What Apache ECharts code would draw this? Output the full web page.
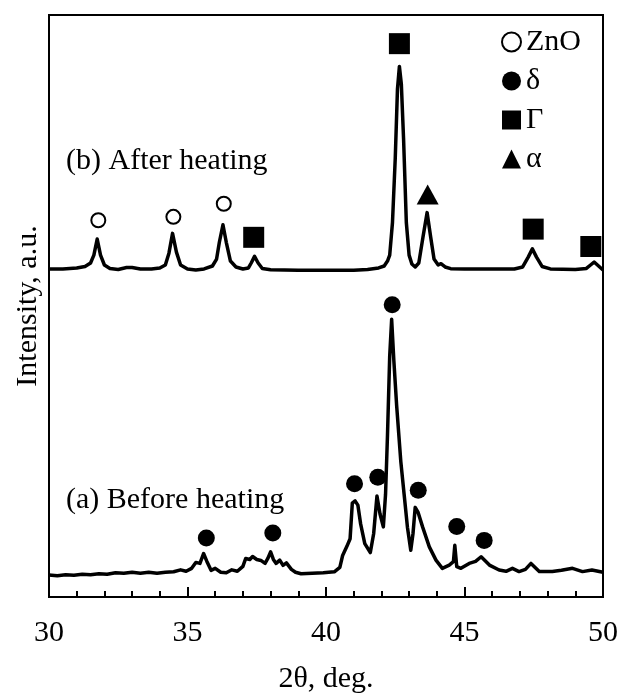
<!DOCTYPE html>
<html>
<head>
<meta charset="utf-8">
<script src="https://cdn.jsdelivr.net/npm/echarts@6/dist/echarts.min.js"></script>
<style>
html,body{margin:0;padding:0;background:#fff;}
#chart{width:621px;height:699px;}
</style>
</head>
<body>
<div id="chart"></div>
<script>
// x-axis tick labels
var xTicks = [30, 35, 40, 45, 50];

// (b) After heating: [2theta, intensity (a.u., offset pattern)]
var patternB = [
[30.0,332],[30.5,332],[31.0,333],[31.3,334.5],[31.5,338],[31.62,346],[31.74,362.3],[31.86,346],[32.0,336],[32.2,332.5],
[32.5,331.5],[32.8,333.5],[33.0,333.5],[33.3,332],[33.7,332],[34.0,333],[34.2,336],[34.33,348],[34.46,368],[34.6,349],
[34.75,336],[35.0,332],[35.3,331],[35.6,332],[35.9,335],[36.05,342],[36.15,359],[36.28,376.7],[36.4,359],[36.55,340],
[36.75,334],[37.0,332],[37.2,333],[37.3,338],[37.42,344.7],[37.55,338],[37.7,332.5],[38.0,331.2],[39.0,330.7],[40.0,330.7],
[41.0,330.7],[41.5,331.5],[41.9,333],[42.1,335],[42.22,340],[42.3,346],[42.4,379],[42.5,444],[42.58,514],[42.65,537],
[42.72,519],[42.8,464],[42.9,379],[43.0,346],[43.1,337],[43.22,334],[43.35,338],[43.5,364],[43.65,389],[43.78,364],
[43.9,342],[44.05,336],[44.15,337.3],[44.3,334],[44.5,332.3],[45.0,332],[46.0,332],[46.8,332],[47.1,334],[47.3,344],
[47.45,352.3],[47.6,344],[47.8,334.5],[48.1,332],[49.0,331.5],[49.4,332.5],[49.55,336],[49.68,339],[49.8,336],[50.0,331]
];

// (a) Before heating
var patternA = [
[30.0,22.3],[30.3,21.5],[30.6,22.5],[30.9,22],[31.2,23],[31.5,22.5],[31.8,23.5],[32.1,23],[32.4,24.5],[32.7,24],
[33.0,25],[33.3,24],[33.6,25],[33.9,24],[34.2,25],[34.5,25.5],[34.75,27.5],[34.95,26],[35.15,29],[35.3,35],
[35.45,34],[35.58,44],[35.7,36],[35.85,27],[36.0,29],[36.2,25],[36.4,24.5],[36.6,27.5],[36.8,26],[37.0,31],
[37.1,39],[37.25,38],[37.35,41],[37.5,38],[37.65,37],[37.8,34],[37.9,39],[38.0,45.7],[38.1,38],[38.2,34],
[38.33,37.3],[38.45,32],[38.57,34.5],[38.75,28],[38.9,25],[39.1,23.5],[39.5,24],[39.9,24.5],[40.3,25.5],[40.5,30],
[40.6,42],[40.75,51],[40.87,59],[40.95,95],[41.05,97.3],[41.15,93],[41.25,74],[41.4,54],[41.6,45],[41.72,64],
[41.84,102.3],[41.95,84],[42.07,71],[42.15,104],[42.22,164],[42.3,244],[42.37,281],[42.45,239],[42.55,194],[42.7,137.3],
[42.82,104],[42.94,70.7],[43.06,47.3],[43.14,64],[43.22,90.7],[43.32,86],[43.49,70.7],[43.73,50.7],[43.97,37.3],[44.2,29],
[44.45,32.3],[44.6,35.7],[44.65,52.3],[44.72,30.7],[44.87,29],[45.17,34],[45.4,36],[45.6,40.7],[45.9,32.3],[46.25,27.3],
[46.5,26],[46.73,29],[46.97,25.7],[47.2,28],[47.4,34],[47.7,25.7],[48.17,25.7],[48.5,27],[48.9,29],[49.26,25.7],
[49.6,27.3],[50.0,25]
];

// phase markers
var markZnO = [[31.78,381.3],[34.49,384.7],[36.31,398]];
var markDelta = [[35.68,59.7],[38.08,64.7],[41.03,114.7],[41.87,121.3],[42.39,295.7],[43.33,108],[44.72,71.3],[45.71,57.3]];
var markGamma = [[37.39,364],[42.65,560],[47.48,372.3],[49.56,354.7]];
var markAlpha = [[43.67,407.3]];

var phaseNames = ['ZnO', 'δ', 'Γ', 'α'];
var labelB = '(b) After heating';
var labelA = '(a) Before heating';

var FONT = '"Liberation Serif", "Times New Roman", serif';
var chart = echarts.init(document.getElementById('chart'), null, {renderer: 'canvas'});

chart.setOption({
  animation: false,
  backgroundColor: '#fff',
  grid: {left: 49, right: 17, top: 15, bottom: 95, show: true, borderColor: '#000', borderWidth: 2, backgroundColor: 'transparent'},
  xAxis: {
    type: 'value', min: xTicks[0], max: xTicks[xTicks.length - 1], interval: 5,
    name: '2θ, deg.', nameLocation: 'middle', nameGap: 67,
    nameTextStyle: {fontFamily: FONT, fontSize: 30, color: '#000'},
    axisLine: {show: true, lineStyle: {color: '#000', width: 2}},
    axisTick: {show: true, inside: true, length: 10, lineStyle: {color: '#000', width: 2}},
    minorTick: {show: true, splitNumber: 5, length: 6, lineStyle: {color: '#000', width: 2}},
    axisLabel: {fontFamily: FONT, fontSize: 30, color: '#000', margin: 21},
    splitLine: {show: false}
  },
  yAxis: {
    type: 'value', min: 0, max: 589,
    name: 'Intensity, a.u.', nameLocation: 'middle', nameGap: 6,
    nameTextStyle: {fontFamily: FONT, fontSize: 30, color: '#000'},
    axisLine: {show: false}, axisTick: {show: false}, axisLabel: {show: false}, splitLine: {show: false}
  },
  legend: {
    orient: 'vertical', left: 496, top: 22, itemWidth: 19, itemHeight: 19, itemGap: 9,
    selectedMode: false,
    textStyle: {fontFamily: FONT, fontSize: 30, color: '#000', lineHeight: 30},
    data: phaseNames
  },
  graphic: [
    {type: 'text', left: 66, top: 146, style: {text: labelB, font: '30px ' + FONT, fill: '#000'}},
    {type: 'text', left: 66, top: 485, style: {text: labelA, font: '30px ' + FONT, fill: '#000'}}
  ],
  series: [
    {type: 'line', data: patternB, showSymbol: false, symbol: 'none', lineStyle: {color: '#000', width: 3.5, join: 'round'}, z: 2},
    {type: 'line', data: patternA, showSymbol: false, symbol: 'none', lineStyle: {color: '#000', width: 3.5, join: 'round'}, z: 2},
    {name: phaseNames[0], type: 'scatter', data: markZnO, symbol: 'circle', symbolSize: 14,
     itemStyle: {color: '#fff', borderColor: '#000', borderWidth: 2, opacity: 1}, z: 5},
    {name: phaseNames[1], type: 'scatter', data: markDelta, symbol: 'circle', symbolSize: 17,
     itemStyle: {color: '#000', opacity: 1}, z: 5},
    {name: phaseNames[2], type: 'scatter', data: markGamma, symbol: 'rect', symbolSize: 21,
     itemStyle: {color: '#000', opacity: 1}, z: 5},
    {name: phaseNames[3], type: 'scatter', data: markAlpha, symbol: 'triangle', symbolSize: [22, 20],
     itemStyle: {color: '#000', opacity: 1}, z: 5}
  ]
});
</script>
</body>
</html>
